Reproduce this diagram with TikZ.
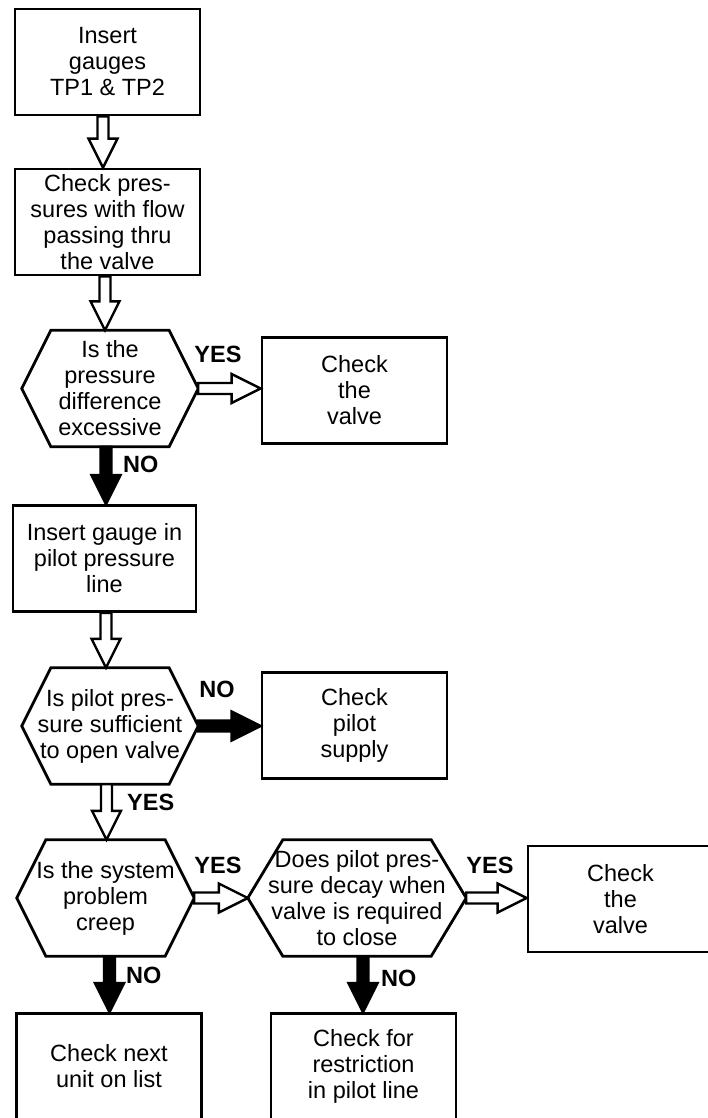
\documentclass[tikz,border=0pt]{standalone}
\usepackage{fontspec}
\setmainfont{Liberation Sans}
\usetikzlibrary{calc}

\begin{document}
\begin{tikzpicture}[x=1pt, y=-1pt,
        box/.style={draw, rectangle, line width=2.8pt, align=center, inner sep=0pt, minimum width=185pt, minimum height=106pt, font=\fontsize{23.5}{26}\selectfont},
        decision/.style={rectangle, align=center, inner sep=0pt, minimum height=116pt, font=\fontsize{23.5}{26}\selectfont},
        answer/.style={anchor=base west, inner sep=0pt, font=\fontsize{23.5}{26}\selectfont\bfseries},
        openarrow/.style={draw, fill=white, line width=2.4pt},
        solidarrow/.style={draw, fill=black, line width=2.4pt},
        flowdown/.style={to path={let \p1=(\tikztostart), \p2=(\tikztotarget) in
            (\x1-5.5pt,\y1) -- (\x1-5.5pt,\y2+29pt) -- (\x1-14.5pt,\y2+29pt) -- (\x1,\y2)
            -- (\x1+14.5pt,\y2+29pt) -- (\x1+5.5pt,\y2+29pt) -- (\x1+5.5pt,\y1) -- cycle}},
        flowright/.style={to path={let \p1=(\tikztostart), \p2=(\tikztotarget) in
            (\x1,\y1+5.5pt) -- (\x2-29pt,\y1+5.5pt) -- (\x2-29pt,\y1+14.5pt) -- (\x2,\y1)
            -- (\x2-29pt,\y1-14.5pt) -- (\x2-29pt,\y1-5.5pt) -- (\x1,\y1-5.5pt) -- cycle}}
    ]
    \useasboundingbox (0,0) rectangle (708,1118);

    \node[box] (tp) at (107.5,62) {Insert\\gauges\\TP1 \& TP2};
    \node[box] (flow) at (107.5,222) {Check pres-\\sures with flow\\passing thru\\the valve};
    \node[decision, minimum width=176pt] (q1) at (110,388.5) {Is the\\pressure\\difference\\excessive};
    \node[box] (valve1) at (354.5,390.5) {Check\\the\\valve};
    \node[box, minimum width=183pt] (gauge) at (104.5,558.5) {Insert gauge in\\pilot pressure\\line};
    \node[decision, minimum width=176pt] (q2) at (110,726) {Is pilot pres-\\sure sufficient\\to open valve};
    \node[box] (supply) at (354.5,725.5) {Check\\pilot\\supply};
    \node[decision, minimum width=177pt] (q3) at (105.5,898) {Is the system\\problem\\creep};
    \node[decision, minimum width=218pt] (q4) at (357,898) {Does pilot pres-\\sure decay when\\valve is required\\to close};
    \node[box] (valve2) at (620.5,899) {Check\\the\\valve};
    \node[box] (nextunit) at (109,1066.5) {Check next\\unit on list};
    \node[box] (restrict) at (363.5,1066.5) {Check for\\restriction\\in pilot line};

    % hexagon outlines
    \foreach \q/\c in {q1/29, q2/29, q3/29, q4/35}
        \draw[line width=2.8pt] (\q.west) -- ([xshift=\c pt]\q.north west) -- ([xshift=-\c pt]\q.north east)
            -- (\q.east) -- ([xshift=-\c pt]\q.south east) -- ([xshift=\c pt]\q.south west) -- cycle;

    \draw[openarrow, flowdown] ([xshift=-4.5]tp.south) to (flow.north);
    \draw[openarrow, flowdown] ([xshift=-2.5]flow.south) to (q1.north);
    \draw[solidarrow, flowdown] ([xshift=-4]q1.south) to (gauge.north);
    \draw[openarrow, flowdown] ([xshift=1.5]gauge.south) to (q2.north);
    \draw[openarrow, flowdown] ([xshift=-3.5]q2.south) to (q3.north);
    \draw[solidarrow, flowdown] ([xshift=4]q3.south) to (nextunit.north);
    \draw[solidarrow, flowdown] ([xshift=6]q4.south) to (restrict.north);
    \draw[openarrow, flowright] (q1.east) to (valve1.west);
    \draw[solidarrow, flowright] (q2.east) to (supply.west);
    \draw[openarrow, flowright] (q3.east) to (q4.west);
    \draw[openarrow, flowright] (q4.east) to (valve2.west);

    \node[answer] (yes1) at ([shift={(-4,-26.5)}]q1.east) {YES};
    \node[answer] (no1) at ([shift={(13,26)}]q1.south) {NO};
    \node[answer] (no2) at ([shift={(1,-29)}]q2.east) {NO};
    \node[answer] (yes2) at ([shift={(17,26)}]q2.south) {YES};
    \node[answer] (yes3) at ([shift={(0,-25)}]q3.east) {YES};
    \node[answer] (yes4) at ([shift={(0,-25)}]q4.east) {YES};
    \node[answer] (no3) at ([shift={(20.5,27)}]q3.south) {NO};
    \node[answer] (no4) at ([shift={(24,30)}]q4.south) {NO};
\end{tikzpicture}
\end{document}
